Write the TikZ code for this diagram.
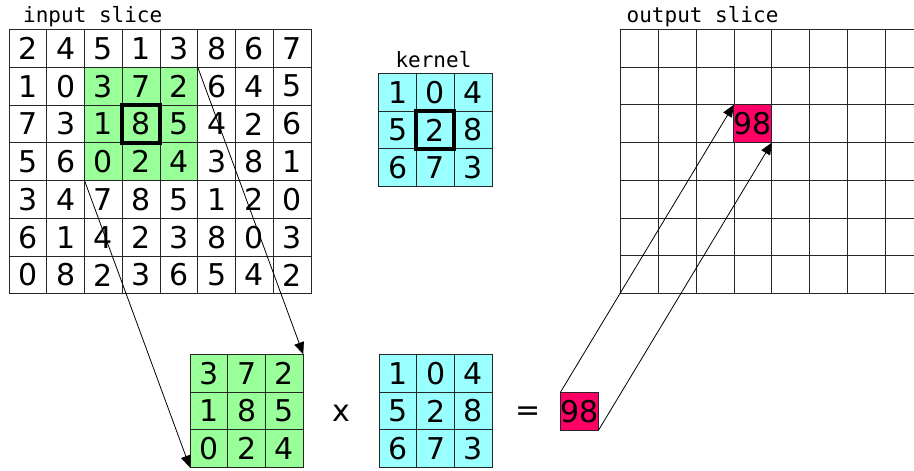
\documentclass[tikz,border=0pt]{standalone}
\usepackage{fontspec}
\setmainfont{DejaVu Sans}
\newfontfamily\monof{DejaVu Sans Mono}
\usetikzlibrary{arrows.meta}
\definecolor{ingreen}{RGB}{153,255,153}
\definecolor{kcyan}{RGB}{153,255,255}
\definecolor{respink}{RGB}{255,0,102}
\tikzset{
  cell/.style={draw=black!85, line width=0.9pt, minimum width=37.75pt, minimum height=37.75pt,
    inner sep=0pt, outer sep=0pt, font=\fontsize{30}{30}\selectfont, anchor=center},
  lbl/.style={font=\monof\fontsize{21}{21}\selectfont, inner sep=0pt, anchor=base west},
  opsym/.style={font=\fontsize{30}{30}\selectfont, inner sep=0pt},
  thickbox/.style={draw=black, line width=4pt},
  conn/.style={draw=black, line width=0.8pt, -{Triangle[length=12pt,width=10pt]}},
}
\begin{document}
\begin{tikzpicture}[x=1pt,y=-1pt]
\useasboundingbox (0,0) rectangle (914,471);
\clip (0,0) rectangle (914,471);
\fill[white] (0,0) rectangle (914,471);
\def\s{37.75}
% input slice
\foreach \row [count=\r from 0] in {{2,4,5,1,3,8,6,7},{1,0,3,7,2,6,4,5},{7,3,1,8,5,4,2,6},{5,6,0,2,4,3,8,1},{3,4,7,8,5,1,2,0},{6,1,4,2,3,8,0,3},{0,8,2,3,6,5,4,2}}{
  \foreach \v [count=\c from 0] in \row {
    \def\fillc{white}
    \ifnum\r>0 \ifnum\r<4 \ifnum\c>1 \ifnum\c<5 \def\fillc{ingreen}\fi\fi\fi\fi
    \node[cell, fill=\fillc] (in-\r-\c) at ({9+\s*(\c+0.5)},{29.5+\s*(\r+0.5)}) {\v};
  }
}
\draw[thickbox] (in-2-3.north west) rectangle (in-2-3.south east);
\node[lbl] (inlabel) at (23,22.7) {input slice};
% kernel
\foreach \row [count=\r from 0] in {{1,0,4},{5,2,8},{6,7,3}}{
  \foreach \v [count=\c from 0] in \row {
    \node[cell, fill=kcyan] (k-\r-\c) at ({378.7+\s*(\c+0.5)},{73.3+\s*(\r+0.5)}) {\v};
  }
}
\draw[thickbox] (k-1-1.north west) rectangle (k-1-1.south east);
\node[font=\monof\fontsize{21}{21}\selectfont, inner sep=0pt, anchor=base] (klabel) at (433.5,67.3) {kernel};
% output slice
\foreach \r in {0,...,6}{
  \foreach \c in {0,...,7}{
    \node[cell] (out-\r-\c) at ({620.7+\s*(\c+0.5)},{29.3+\s*(\r+0.5)}) {};
  }
}
\node[cell, fill=respink] (outres) at (out-2-3.center) {98};
\node[lbl] (outlabel) at (626.5,22.7) {output slice};
% bottom green matrix
\foreach \row [count=\r from 0] in {{3,7,2},{1,8,5},{0,2,4}}{
  \foreach \v [count=\c from 0] in \row {
    \node[cell, fill=ingreen] (bg-\r-\c) at ({190+\s*(\c+0.5)},{354.3+\s*(\r+0.5)}) {\v};
  }
}
% bottom kernel
\foreach \row [count=\r from 0] in {{1,0,4},{5,2,8},{6,7,3}}{
  \foreach \v [count=\c from 0] in \row {
    \node[cell, fill=kcyan] (bk-\r-\c) at ({379+\s*(\c+0.5)},{354.3+\s*(\r+0.5)}) {\v};
  }
}
\node[opsym] (times) at (341.7,413) {x};
\node[opsym] (eq) at (527.7,413.3) {=};
\node[cell, fill=respink] (res) at (579.5,411.2) {98};
% connectors
\draw[conn] (in-1-4.north east) -- (bg-0-2.north east);
\draw[conn] (in-3-2.south west) -- (bg-2-0.south west);
\draw[conn] (res.north west) -- (outres.north west);
\draw[conn] (res.south east) -- (outres.south east);
\end{tikzpicture}
\end{document}
